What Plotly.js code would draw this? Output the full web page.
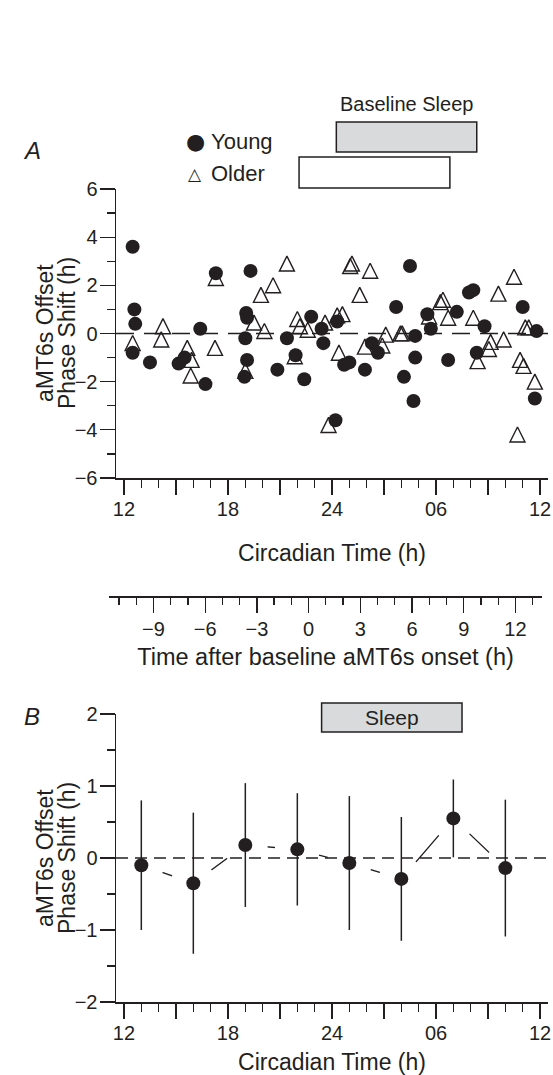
<!DOCTYPE html>
<html><head><meta charset="utf-8">
<script src="https://cdn.plot.ly/plotly-3.0.1.min.js"></script>
<style>html,body{margin:0;padding:0;background:#fff}#chart{width:553px;height:1075px}</style>
</head><body><div id="chart"></div>
<script>
// ---- Panel A: individual aMT6s offset phase shifts ----
const youngCT = [12.5,12.6,12.65,12.5,13.5,15.15,15.5,16.4,16.7,17.3,19.3,19.05,19.1,19.0,19.1,18.95,20.85,21.4,21.9,22.4,22.8,23.4,23.5,24.3,24.2,24.7,25.0,25.9,26.3,26.65,27.7,28.5,28.8,28.8,28.15,28.7,29.5,29.7,30.7,31.2,31.9,32.15,32.8,32.35,35.0,35.8,35.7];
const youngShift = [3.6,1.0,0.4,-0.8,-1.2,-1.25,-1.0,0.2,-2.1,2.5,2.6,0.85,0.65,-0.2,-1.1,-1.8,-1.5,-0.2,-0.9,-1.9,0.7,0.2,-0.4,0.5,-3.6,-1.3,-1.2,-1.5,-0.4,-0.8,1.1,2.8,-0.1,-1.0,-1.8,-2.8,0.8,0.2,-1.1,0.9,1.7,1.8,0.3,-0.8,1.1,0.1,-2.7];
const olderCT = [12.5,14.25,14.15,15.65,15.9,15.85,17.25,17.3,19.0,19.5,20.1,19.9,20.6,21.4,22.0,22.15,21.85,22.6,23.6,24.3,24.6,23.8,24.4,25.05,25.15,26.2,25.6,25.9,26.9,27.1,27.95,28.05,30.25,30.4,30.7,29.6,32.15,33.6,34.5,33.15,33.05,33.9,32.4,35.15,35.35,34.85,35.05,35.7,34.7];
const olderShift = [-0.5,0.2,-0.35,-0.7,-1.2,-1.85,-0.7,2.2,-1.65,0.35,0.0,1.5,1.9,2.8,0.5,0.2,-1.05,0.05,0.35,0.65,0.7,-3.9,-0.9,2.7,2.8,2.5,1.5,-0.65,-0.6,-0.15,-0.1,-0.1,1.2,1.3,0.55,0.6,0.55,1.55,2.25,-0.45,-0.75,-0.35,-1.25,0.15,0.15,-1.2,-1.45,-2.1,-4.3];

// ---- Panel B: binned means ----
const binCT = [13,16,19,22,25,28,31,34];
const binMean = [-0.10,-0.35,0.18,0.12,-0.07,-0.29,0.55,-0.14];
const binErr = [0.90,0.98,0.86,0.78,0.93,0.86,0.54,0.95];

// ---- Sleep windows (circadian time) ----
const youngSleep = [24.25, 32.35];
const olderSleep = [22.1, 30.8];
const sleepB = [23.4, 31.5];

// ---- Tick labels / legend labels ----
const ctTickVals = [12,15,18,21,24,27,30,33,36];
const ctTickText = ['12','','18','','24','','06','','12'];
const groupNames = ['Young', 'Older'];

const W = 553, H = 1075;
const fx = p => p / W;
const fy = p => 1 - p / H;
const INK = '#231f20';
const FONT = 'Liberation Sans, Arial, Helvetica, sans-serif';
const CT_RANGE = [11.54, 36.46];

function ctAxis(anchor, domain, standoff) {
  return {
    domain: domain, range: CT_RANGE, anchor: anchor,
    showline: true, linecolor: INK, linewidth: 1.5,
    showgrid: false, zeroline: false,
    ticks: 'outside', ticklen: 15, tickwidth: 1.3, tickcolor: INK,
    tickmode: 'array', tickvals: ctTickVals, ticktext: ctTickText,
    tickfont: {size: 20, color: INK}, ticklabelstandoff: -3,
    minor: {ticks: 'outside', ticklen: 8, tickwidth: 1.3, tickcolor: INK, tickmode: 'linear', tick0: 12, dtick: 1, showgrid: false},
    title: {text: 'Circadian Time (h)', font: {size: 23, color: INK}, standoff: standoff}
  };
}
function valAxis(anchor, domain, range, dtick, minorD) {
  return {
    domain: domain, range: range, anchor: anchor,
    showline: true, linecolor: INK, linewidth: 1.5,
    showgrid: false, zeroline: false,
    ticks: 'outside', ticklen: 15, tickwidth: 1.3, tickcolor: INK,
    tickmode: 'linear', tick0: 0, dtick: dtick,
    tickfont: {size: 20, color: INK}, ticklabelstandoff: -2,
    minor: {ticks: 'outside', ticklen: 8, tickwidth: 1.3, tickcolor: INK, tickmode: 'linear', tick0: 0, dtick: minorD, showgrid: false}
  };
}

const traces = [
  {type: 'scatter', mode: 'markers', name: groupNames[1], x: olderCT, y: olderShift, xaxis: 'x', yaxis: 'y',
   marker: {symbol: 'arrow-down-open', angle: 180, standoff: 10, size: 15, color: INK, line: {color: INK, width: 1.4}}},
  {type: 'scatter', mode: 'markers', name: groupNames[0], x: youngCT, y: youngShift, xaxis: 'x', yaxis: 'y',
   marker: {symbol: 'circle', size: 14, color: INK, line: {width: 0}}},
  {type: 'scatter', mode: 'lines', x: binCT, y: binMean, xaxis: 'x2', yaxis: 'y2',
   line: {color: INK, width: 1.3}, hoverinfo: 'skip'},
  {type: 'scatter', mode: 'markers', x: binCT, y: binMean, xaxis: 'x2', yaxis: 'y2',
   marker: {size: 45, color: '#ffffff', line: {width: 0}}, hoverinfo: 'skip'},
  {type: 'scatter', mode: 'markers', x: binCT, y: binMean, xaxis: 'x2', yaxis: 'y2',
   marker: {size: 14, color: INK, line: {width: 0}},
   error_y: {type: 'data', array: binErr, visible: true, width: 0, thickness: 1.5, color: INK}},
  {type: 'scatter', mode: 'markers', x: [], y: [], xaxis: 'x3', yaxis: 'y3'}
];

function ann(text, x, y, size, extra) {
  return Object.assign({text: text, xref: 'paper', yref: 'paper', x: x, y: y, showarrow: false,
    xanchor: 'center', yanchor: 'middle', font: {size: size, color: INK}}, extra || {});
}

const layout = {
  width: W, height: H,
  margin: {l: 0, r: 0, t: 0, b: 0},
  paper_bgcolor: '#ffffff', plot_bgcolor: 'rgba(0,0,0,0)',
  font: {family: FONT, color: INK},
  showlegend: false,
  xaxis: ctAxis('y', [fx(116), fx(548)], 26),
  yaxis: valAxis('x', [fy(478), fy(189)], [-6, 6], 2, 1),
  xaxis2: ctAxis('y2', [fx(116), fx(548)], 29),
  yaxis2: valAxis('x2', [fy(1002), fy(714)], [-2, 2], 1, 0.5),
  xaxis3: {
    domain: [fx(109.3), fx(541.7)], range: [-11.56, 13.52], anchor: 'y3',
    showline: true, linecolor: INK, linewidth: 1.5, showgrid: false, zeroline: false,
    ticks: 'outside', ticklen: 15, tickwidth: 1.3, tickcolor: INK,
    tickmode: 'linear', tick0: 0, dtick: 3, tickfont: {size: 20, color: INK}, ticklabelstandoff: -1,
    minor: {ticks: 'outside', ticklen: 7, tickwidth: 1.3, tickcolor: INK, tickmode: 'linear', tick0: 0, dtick: 1, showgrid: false},
    title: {text: 'Time after baseline aMT6s onset (h)', font: {size: 23.5, color: INK}, standoff: 10}
  },
  yaxis3: {domain: [fy(596), fy(595)], range: [0, 1], anchor: 'x3', visible: false, fixedrange: true},
  shapes: [
    {type: 'line', xref: 'x domain', yref: 'y', x0: 0, x1: 1, y0: 0, y1: 0, layer: 'below',
     line: {color: INK, width: 1.3, dash: '18px,10px'}},
    {type: 'rect', xref: 'x', yref: 'paper', x0: youngSleep[0], x1: youngSleep[1], y0: fy(152), y1: fy(122),
     fillcolor: '#d9dadb', line: {color: INK, width: 1.5}},
    {type: 'rect', xref: 'x', yref: 'paper', x0: olderSleep[0], x1: olderSleep[1], y0: fy(188), y1: fy(157),
     fillcolor: '#ffffff', line: {color: INK, width: 1.5}},
    {type: 'line', xref: 'x2 domain', yref: 'y2', x0: 0, x1: 1, y0: 0, y1: 0, layer: 'above',
     line: {color: INK, width: 1.3, dash: '12px,7px'}},
    {type: 'rect', xref: 'x2', yref: 'paper', x0: sleepB[0], x1: sleepB[1], y0: fy(732), y1: fy(703),
     fillcolor: '#d9dadb', line: {color: INK, width: 1.5}}
  ],
  annotations: [
    ann('<i>A</i>', fx(32), fy(150), 24),
    ann('<i>B</i>', fx(32), fy(716), 24),
    ann('Baseline Sleep', (youngSleep[0] + youngSleep[1]) / 2, fy(104), 20, {xref: 'x'}),
    ann('Sleep', (sleepB[0] + sleepB[1]) / 2, fy(717), 21, {xref: 'x2'}),
    ann('\u25CF', fx(195), fy(141), 22, {font: {size: 22, color: INK, family: 'DejaVu Sans'}}),
    ann(groupNames[0], fx(209), fy(141), 22, {xanchor: 'left'}),
    ann('\u25B3', fx(195), fy(174), 17, {font: {size: 17, color: INK, family: 'DejaVu Sans'}}),
    ann(groupNames[1], fx(209), fy(174), 22, {xanchor: 'left'}),
    ann('aMT6s Offset', fx(45), fy(333), 23, {textangle: -90}),
    ann('Phase Shift (h)', fx(67), fy(333), 23, {textangle: -90}),
    ann('aMT6s Offset', fx(45), fy(858), 23, {textangle: -90}),
    ann('Phase Shift (h)', fx(67), fy(858), 23, {textangle: -90})
  ]
};

Plotly.newPlot('chart', traces, layout, {displayModeBar: false, staticPlot: true});
</script>
</body></html>
